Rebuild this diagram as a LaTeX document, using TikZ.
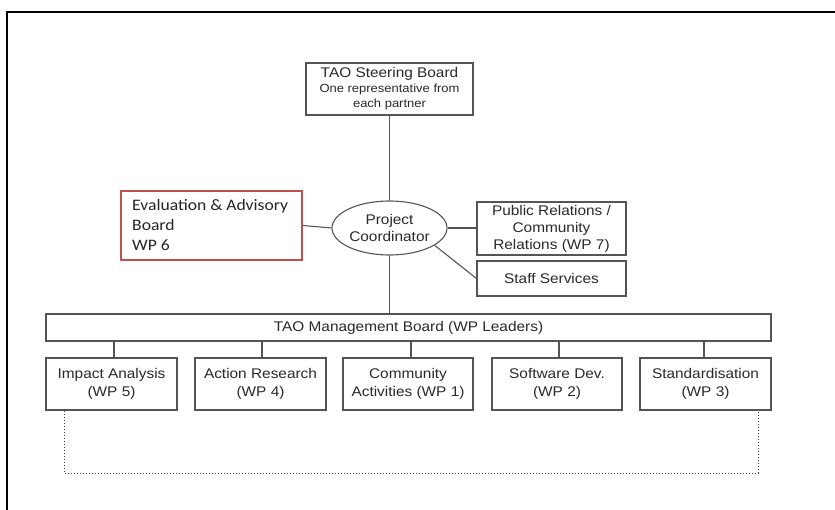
\documentclass[tikz,border=0pt]{standalone}
\usepackage{fontspec}
\usetikzlibrary{shapes.geometric}
\newfontfamily\af[FakeStretch=1.1]{Liberation Sans}
\newfontfamily\cf[FakeStretch=1.1]{Carlito}
\definecolor{ln}{HTML}{555555}
\definecolor{tx}{HTML}{2A2A2A}
\definecolor{rd}{HTML}{C0504D}
\tikzset{
  box/.style={draw=ln, line width=1.1pt, rectangle, inner sep=0pt, align=center,
    text=tx, font=\af\fontsize{14}{17.5}\selectfont},
  conn/.style={draw=ln, line width=1.1pt},
  dconn/.style={draw=ln!80!black, line width=1pt, dash pattern=on 1.5pt off 1.5pt},
}
\begin{document}
\begin{tikzpicture}[x=1pt,y=-1pt]
\useasboundingbox (0,0) rectangle (835,510);
\fill[white] (0,0) rectangle (835,510);
\draw[line width=2.2pt] (7,511) -- (7,12) -- (836,12);

\node[box, minimum width=167pt, minimum height=52pt, font=\af\fontsize{11.8}{15}\selectfont] (sb) at (389.5,89)
  {{\fontsize{14}{16}\selectfont TAO Steering Board}\\One representative from\\each partner};
\node[box, ellipse, minimum width=115pt, minimum height=54pt, font=\af\fontsize{14}{17}\selectfont] (pc) at (389.5,228) {Project\\Coordinator};
\node[draw=rd, line width=2pt, rectangle, minimum width=181pt, minimum height=69pt, inner sep=0pt] (ev) at (211.5,225.5) {};
\node[anchor=west, align=left, inner sep=0pt, text=black!85, font=\cf\fontsize{16}{20}\selectfont] (evt) at (132,225.5)
  {Evaluation \& Advisory\\Board\\WP 6};
\node[box, minimum width=149pt, minimum height=53pt, font=\af\fontsize{14}{17}\selectfont] (pr) at (551.5,228.5)
  {Public Relations /\\Community\\Relations (WP 7)};
\node[box, minimum width=149pt, minimum height=35pt] (ss) at (551.5,278.5) {Staff Services};
\node[box, minimum width=725pt, minimum height=27pt] (mb) at (408.5,327.5) {TAO Management Board (WP Leaders)};

\node[box, minimum width=131pt, minimum height=52pt] (ia) at (111.5,384) {Impact Analysis\\(WP 5)};
\node[box, minimum width=131pt, minimum height=52pt] (ar) at (260.5,384) {Action Research\\(WP 4)};
\node[box, minimum width=130pt, minimum height=52pt] (ca) at (408,384) {Community\\Activities (WP 1)};
\node[box, minimum width=130pt, minimum height=52pt] (sd) at (557,384) {Software Dev.\\(WP 2)};
\node[box, minimum width=131pt, minimum height=52pt] (st) at (705.5,384) {Standardisation\\(WP 3)};

\draw[conn] (sb.south) -- (pc.north);
\draw[conn] (pc.south) -- (pc.south |- mb.north);
\draw[conn] (ev.east) -- (pc.west);
\draw[conn] (pc.east) -- (pc.east -| pr.west);
\draw[conn] (pc.-21) -- (ss.west);

\coordinate (m1) at (114,0);
\coordinate (m2) at (262,0);
\coordinate (m3) at (411,0);
\coordinate (m4) at (559,0);
\coordinate (m5) at (704,0);
\draw[conn] (mb.south -| m1) -- (ia.north -| m1);
\draw[conn] (mb.south -| m2) -- (ar.north -| m2);
\draw[conn] (mb.south -| m3) -- (ca.north -| m3);
\draw[conn] (mb.south -| m4) -- (sd.north -| m4);
\draw[conn] (mb.south -| m5) -- (st.north -| m5);

\coordinate (d1) at (64,473);
\coordinate (d2) at (758,473);
\draw[dconn] (ia.south -| d1) -- (d1) -- (d2) -- (st.south -| d2);
\end{tikzpicture}
\end{document}
